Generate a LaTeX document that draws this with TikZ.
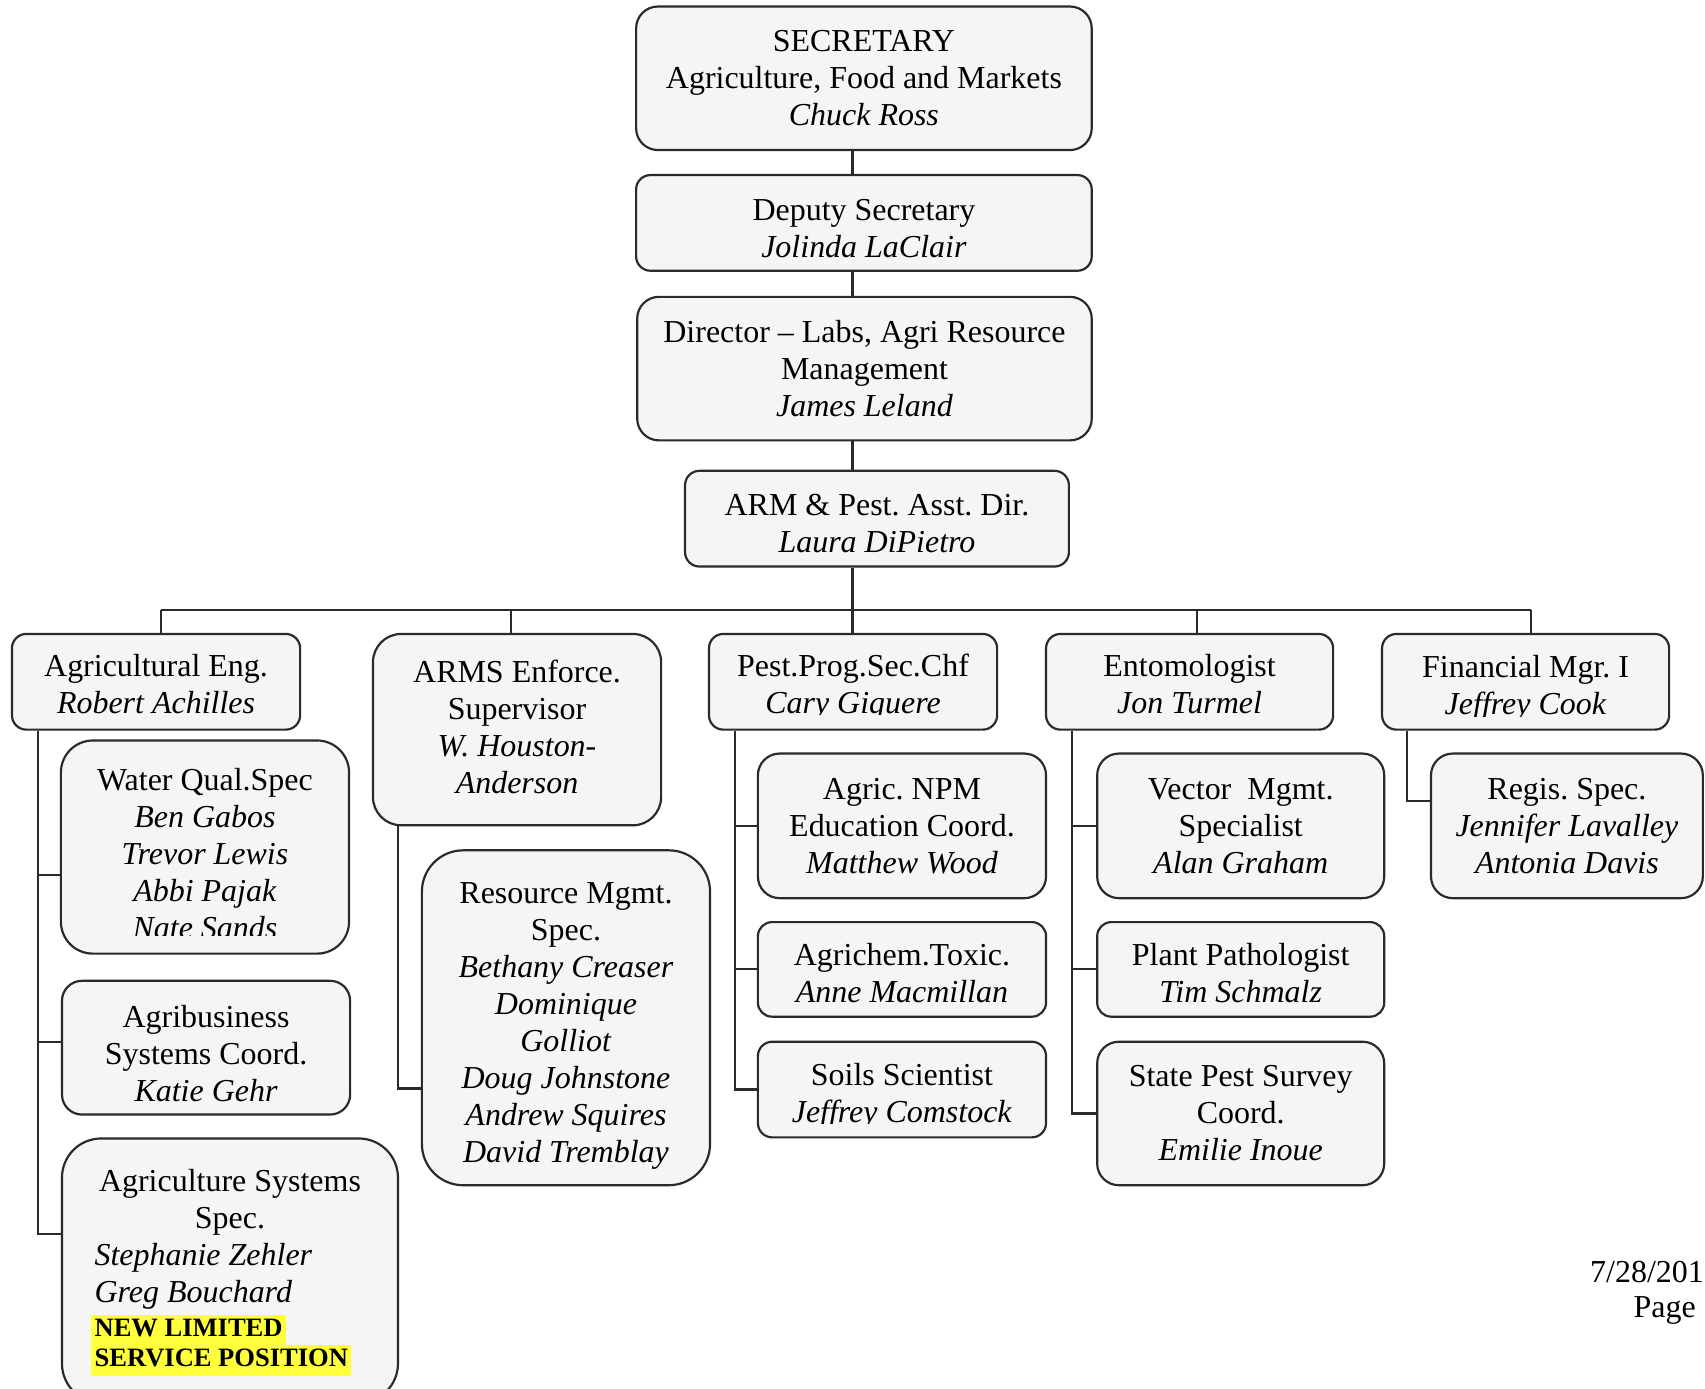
\documentclass[tikz,border=0pt]{standalone}
\usepackage{fontspec}
\setmainfont{Liberation Serif}
\usetikzlibrary{calc}
\definecolor{boxfill}{HTML}{F5F5F3}
\definecolor{lineclr}{HTML}{2A2A2A}
\definecolor{hlyellow}{HTML}{FFFF3C}
\newcommand{\hlline}[1]{\hspace*{-1.5pt}{\setlength{\fboxsep}{0pt}\colorbox{hlyellow}{\hspace{1.5pt}\fontsize{12.2}{14.5}\selectfont\bfseries\rule[-4.1pt]{0pt}{14pt}#1\hspace{1.5pt}}}}
\newcommand{\agsline}[1]{\makebox[124.5pt][l]{#1}}
\newcommand{\tlow}[1]{\rule{0pt}{#1}}
\begin{document}
\frenchspacing
\begin{tikzpicture}[x=0.5pt,y=-0.5pt,
  orgbox/.style={draw=lineclr,line width=1pt,fill=boxfill,align=center,inner sep=0pt,font=\fontsize{14.7}{17}\selectfont},
  link/.style={draw=lineclr,line width=1pt},
  txt/.style={align=center,inner sep=0pt,font=\fontsize{14.7}{17}\selectfont},
  traise/.style={execute at end node={\rule[-#1]{0pt}{0pt}}}]
\useasboundingbox[fill=white] (0,0) rectangle (1568,1277);

% ---------- top chain ----------
\node[orgbox,minimum width=209.5pt,minimum height=66pt,rounded corners=10pt] (sec) at (794.5,72)
  {SECRETARY\\Agriculture, Food and Markets\\\textit{Chuck Ross}};
\node[orgbox,minimum width=209.5pt,minimum height=44pt,rounded corners=6.6pt] (dep) at (794.5,205)
  {\tlow{15pt}Deputy Secretary\\\textit{Jolinda LaClair}};
\node[orgbox,minimum width=209pt,minimum height=66pt,rounded corners=10pt] (dir) at (795,339)
  {Director -- Labs, Agri Resource\\Management\\\textit{James Leland}};
\node[orgbox,minimum width=176.5pt,minimum height=44pt,rounded corners=6.6pt] (arm) at (806.5,477)
  {\tlow{14pt}ARM \& Pest. Asst. Dir.\\\textit{Laura DiPietro}};

% ---------- level 2 ----------
\node[orgbox,minimum width=132.5pt,minimum height=44pt,rounded corners=6.6pt] (ageng) at (143.5,627)
  {\tlow{12pt}Agricultural Eng.\\\textit{Robert Achilles}};
\node[orgbox,traise=3pt,minimum width=132.5pt,minimum height=88pt,rounded corners=13pt] (arms) at (475.5,671)
  {ARMS Enforce.\\Supervisor\\\textit{W. Houston-}\\\textit{Anderson}};
\node[orgbox,minimum width=132.5pt,minimum height=44pt,rounded corners=6.6pt] (pest) at (784.5,627) {};
\begin{scope}
  \clip (pest.north west) rectangle ($(pest.east)+(0,30.5)$);
  \node[txt] (pesttext) at ($(pest.center)+(0,5)$) {Pest.Prog.Sec.Chf\\\textit{Cary Giguere}};
\end{scope}
\node[orgbox,minimum width=132pt,minimum height=44pt,rounded corners=6.6pt] (ento) at (1094,627)
  {\tlow{12pt}Entomologist\\\textit{Jon Turmel}};
\node[orgbox,minimum width=132pt,minimum height=44pt,rounded corners=6.6pt] (fin) at (1403,627) {};
\begin{scope}
  \clip (fin.north west) rectangle ($(fin.east)+(0,31.5)$);
  \node[txt] (fintext) at ($(fin.center)+(0,6)$) {Financial Mgr. I\\\textit{Jeffrey Cook}};
\end{scope}

% ---------- level 3 ----------
\node[orgbox,minimum width=132.5pt,minimum height=98pt,rounded corners=14.7pt] (water) at (188.5,779) {};
\begin{scope}
  \clip (water.north west) rectangle ($(water.east)+(0,81)$);
  \node[txt] (watertext) at ($(water.center)+(0,6)$)
    {Water Qual.Spec\\\textit{Ben Gabos}\\\textit{Trevor Lewis}\\\textit{Abbi Pajak}\\\textit{Nate Sands}};
\end{scope}
\node[orgbox,minimum width=132.5pt,minimum height=61.5pt,rounded corners=9.2pt] (agribiz) at (189.5,963.5)
  {\tlow{16pt}Agribusiness\\Systems Coord.\\\textit{Katie Gehr}};
\node[orgbox,minimum width=154.5pt,minimum height=121.5pt,rounded corners=18pt] (agsys) at (211.5,1168.5)
  {\tlow{12pt}Agriculture Systems\\Spec.\\\agsline{\itshape Stephanie Zehler}\\\agsline{\itshape Greg Bouchard}\\[-1.5pt]\agsline{\hlline{NEW LIMITED}}\\[-3pt]\agsline{\hlline{SERVICE POSITION}}};

\node[orgbox,minimum width=132.5pt,minimum height=154pt,rounded corners=19pt] (resmgmt) at (520.5,936)
  {\tlow{17pt}Resource Mgmt.\\Spec.\\\textit{Bethany Creaser}\\\textit{Dominique}\\\textit{Golliot}\\\textit{Doug Johnstone}\\\textit{Andrew Squires}\\\textit{David Tremblay}};

\node[orgbox,minimum width=132.5pt,minimum height=66.5pt,rounded corners=10pt] (npm) at (829.5,759.5)
  {Agric. NPM\\Education Coord.\\\textit{Matthew Wood}};
\node[orgbox,minimum width=132.5pt,minimum height=43.5pt,rounded corners=6.5pt] (toxic) at (829.5,891.5)
  {\tlow{14pt}Agrichem.Toxic.\\\textit{Anne Macmillan}};
\node[orgbox,minimum width=132.5pt,minimum height=44pt,rounded corners=6.6pt] (soils) at (829.5,1002) {};
\begin{scope}
  \clip (soils.north west) rectangle ($(soils.east)+(0,31.5)$);
  \node[txt] (soilstext) at ($(soils.center)+(0,6)$) {Soils Scientist\\\textit{Jeffrey Comstock}};
\end{scope}

\node[orgbox,minimum width=132pt,minimum height=66.5pt,rounded corners=10pt] (vector) at (1141,759.5)
  {Vector~ Mgmt.\\Specialist\\\textit{Alan Graham}};
\node[orgbox,minimum width=132pt,minimum height=43.5pt,rounded corners=6.5pt] (plant) at (1141,891.5)
  {\tlow{14pt}Plant Pathologist\\\textit{Tim Schmalz}};
\node[orgbox,minimum width=132pt,minimum height=66pt,rounded corners=10pt] (statepest) at (1141,1024)
  {State Pest Survey\\Coord.\\\textit{Emilie Inoue}};

\node[orgbox,minimum width=125pt,minimum height=66.5pt,rounded corners=10pt] (regis) at (1441,759.5)
  {Regis. Spec.\\\textit{Jennifer Lavalley}\\\textit{Antonia Davis}};

% ---------- connectors ----------
\coordinate (spine) at (784,0);
\draw[link] (spine |- sec.south) -- (spine |- dep.north);
\draw[link] (spine |- dep.south) -- (spine |- dir.north);
\draw[link] (spine |- dir.south) -- (spine |- arm.north);
\coordinate (busL) at (148,561);
\coordinate (busR) at (1408,561);
\draw[link] (spine |- arm.south) -- (spine |- busL);
\draw[link] (busL) -- (busR);
\coordinate (dA) at (148,0);
\coordinate (dB) at (470,0);
\coordinate (dD) at (1101,0);
\coordinate (dE) at (1408,0);
\draw[link] (dA |- busL) -- (dA |- ageng.north);
\draw[link] (dB |- busL) -- (dB |- arms.north);
\draw[link] (spine |- busL) -- (spine |- pest.north);
\draw[link] (dD |- busL) -- (dD |- ento.north);
\draw[link] (dE |- busL) -- (dE |- fin.north);

% Agricultural Eng. branch
\coordinate (tA) at (35,0);
\coordinate (eWater) at ($(water.west)+(0,26)$);
\coordinate (eAgribiz) at ($(agribiz.west)+(0,-5)$);
\coordinate (eAgsys) at ($(agsys.west)+(0,-33.5)$);
\draw[link] (tA |- ageng.south) |- (eAgsys);
\draw[link] (tA |- eWater) -- (eWater);
\draw[link] (tA |- eAgribiz) -- (eAgribiz);

% ARMS branch
\coordinate (tB) at (366,0);
\coordinate (eRes) at ($(resmgmt.west)+(0,65)$);
\draw[link] (tB |- arms.south) |- (eRes);

% Pest branch
\coordinate (tC) at (676,0);
\draw[link] (tC |- pest.south) |- (soils.west);
\draw[link] (tC |- npm.west) -- (npm.west);
\draw[link] (tC |- toxic.west) -- (toxic.west);

% Entomologist branch
\coordinate (tD) at (986,0);
\draw[link] (tD |- ento.south) |- (statepest.west);
\draw[link] (tD |- vector.west) -- (vector.west);
\draw[link] (tD |- plant.west) -- (plant.west);

% Financial branch
\coordinate (tE) at (1294,0);
\coordinate (eRegis) at ($(regis.west)+(0,-22.5)$);
\draw[link] (tE |- fin.south) |- (eRegis);

% footer
\node[txt,anchor=west] (date) at (1462,1170) {7/28/201};
\node[txt,anchor=west] (page) at (1502,1205) {Page};
\end{tikzpicture}
\end{document}
